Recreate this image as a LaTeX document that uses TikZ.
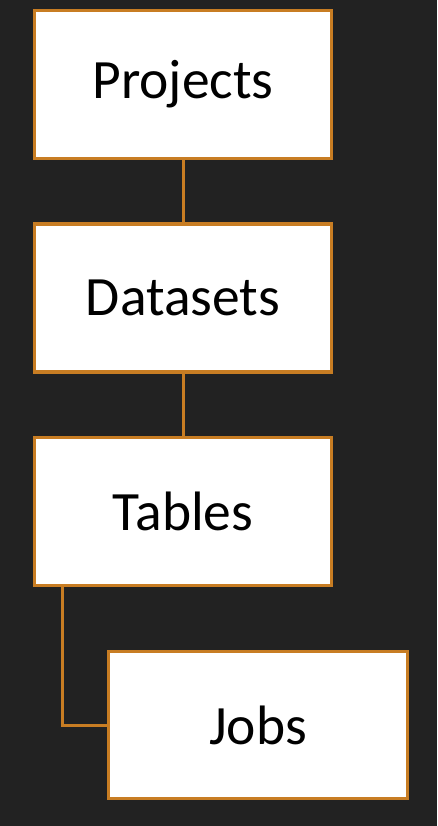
\documentclass[tikz,border=0pt]{standalone}
\usepackage{fontspec}
\setmainfont{Carlito}
\definecolor{bgc}{HTML}{222222}
\definecolor{orng}{HTML}{C87D23}
\begin{document}
\begin{tikzpicture}[x=1pt,y=-1pt,
  box/.style={draw=orng,line width=3.4pt,fill=white,inner sep=0pt,minimum width=297pt,minimum height=148pt,font=\fontsize{55.5}{60}\selectfont,text=black},
  link/.style={draw=orng,line width=3pt}]
\fill[bgc] (0,0) rectangle (437,826);
\useasboundingbox (0,0) rectangle (437,826);
\node[box] (projects) at (183,84.5) {Projects};
\node[box] (datasets) at (183,298) {Datasets};
\node[box] (tables) at (183,511.5) {Tables};
\node[box,minimum width=299pt,minimum height=147pt] (jobs) at (258,725) {Jobs};
\draw[link] (projects.south) -- (datasets.north);
\draw[link] (datasets.south) -- (tables.north);
\coordinate (tj) at ([xshift=29.5pt]tables.south west);
\draw[link] (tj) |- (jobs.west);
\end{tikzpicture}
\end{document}
